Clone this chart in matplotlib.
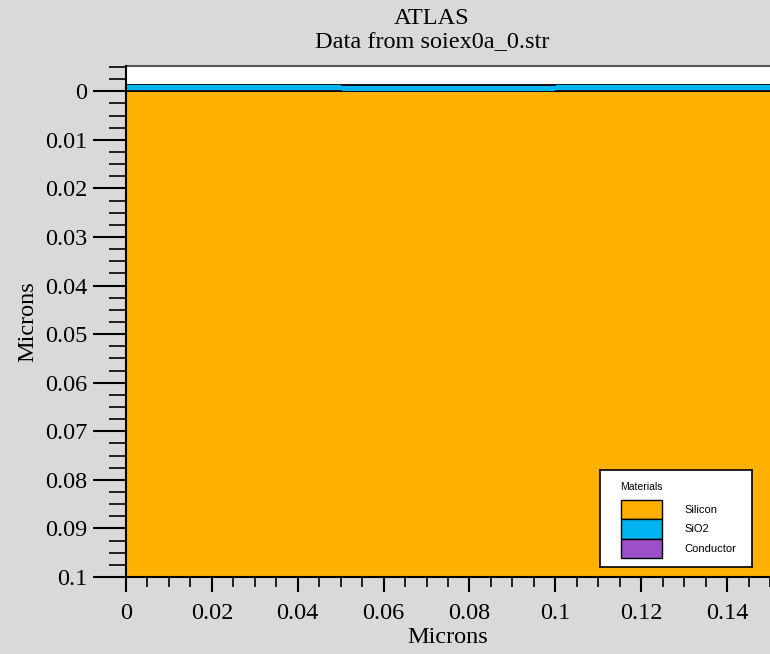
import matplotlib
matplotlib.use('Agg')
import matplotlib.pyplot as plt
from matplotlib.patches import Rectangle
from matplotlib.ticker import MultipleLocator, FuncFormatter

# material regions (x0, x1, y0, y1) in microns
materials = ['Silicon', 'SiO2', 'Conductor']
colors = ['#ffb000', '#00b4f0', '#9b4fc8']
region_material = ['Silicon', 'SiO2', 'Conductor', 'Conductor', 'Conductor']
region_x0 = [0.0, 0.0, 0.0, 0.05, 0.1]
region_x1 = [0.15, 0.15, 0.05, 0.1, 0.15]
region_y0 = [0.0, -0.0014, -0.0002, -0.0015, -0.0002]
region_y1 = [0.1, 0.0, 0.0, -0.0013, 0.0]

xlim = (0.0, 0.15)
ylim = (0.1, -0.0052)

plt.rcParams['font.family'] = ['Liberation Serif', 'DejaVu Serif']

fig = plt.figure(figsize=(7.7, 6.54), dpi=100, facecolor='#d9d9d9')
ax = fig.add_axes([126 / 770, 77 / 654, 644 / 770, 511 / 654])
ax.set_facecolor('white')

cmap = dict(zip(materials, colors))
for m, x0, x1, y0, y1 in zip(region_material, region_x0, region_x1, region_y0, region_y1):
    ax.add_patch(Rectangle((x0, y0), x1 - x0, y1 - y0, facecolor=cmap[m],
                           edgecolor='black', linewidth=0.6))

ax.set_xlim(*xlim)
ax.set_ylim(*ylim)

ax.xaxis.set_major_locator(MultipleLocator(0.02))
ax.xaxis.set_minor_locator(MultipleLocator(0.005))
ax.yaxis.set_major_locator(MultipleLocator(0.01))
ax.yaxis.set_minor_locator(MultipleLocator(0.0025))
fmt = FuncFormatter(lambda v, p: ('%.2f' % (v + 0.0)).rstrip('0').rstrip('.').replace('-0', '0'))
ax.xaxis.set_major_formatter(fmt)
ax.yaxis.set_major_formatter(fmt)

ax.tick_params(axis='y', which='major', direction='out', length=24, width=1.5, labelsize=17.5, pad=4)
ax.tick_params(axis='y', which='minor', direction='out', length=12, width=1.2)
ax.tick_params(axis='x', which='major', direction='out', length=11, width=1.5, labelsize=17.5, pad=8)
ax.tick_params(axis='x', which='minor', direction='out', length=7, width=1.2)

for s in ['top', 'right']:
    ax.spines[s].set_visible(False)
ax.spines['left'].set_linewidth(1.5)
ax.spines['bottom'].set_linewidth(1.5)
ax.plot([0, 0.15], [ylim[1], ylim[1]], color='#555555', linewidth=1.5, clip_on=False)

ax.set_xlabel('Microns', fontsize=17.5, labelpad=2)
ax.set_ylabel('Microns', fontsize=17.5, labelpad=5)

fig.text(0.561, 1 - 18 / 654, 'ATLAS', ha='center', va='center', fontsize=17.5)
fig.text(0.561, 1 - 43 / 654, 'Data from soiex0a_0.str', ha='center', va='center', fontsize=17.5)

# legend box
lax = fig.add_axes([600 / 770, (654 - 567) / 654, 152 / 770, 97 / 654])
lax.set_xlim(0, 152)
lax.set_ylim(97, 0)
lax.set_xticks([])
lax.set_yticks([])
for s in lax.spines.values():
    s.set_linewidth(1.2)
lax.text(20, 17, 'Materials', fontsize=7.5, family='Liberation Sans', va='center')
for i, (m, c) in enumerate(zip(materials, colors)):
    y = 30 + i * 19.3
    lax.add_patch(Rectangle((21, y), 41, 19.3, facecolor=c, edgecolor='black', linewidth=1))
    lax.text(84, y + 10, m, fontsize=8, family='Liberation Sans', va='center')

fig.savefig('out.png', dpi=100, facecolor=fig.get_facecolor())
